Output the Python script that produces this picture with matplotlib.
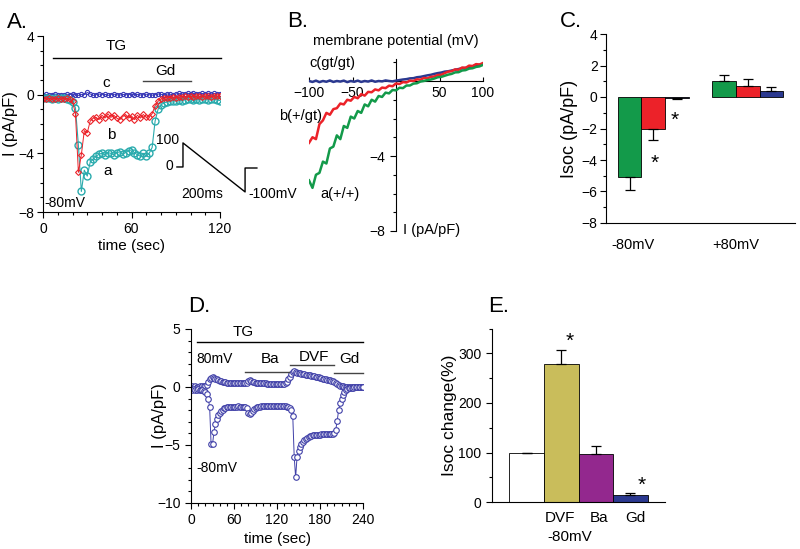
import numpy as np
import matplotlib
matplotlib.use("Agg")
import matplotlib.pyplot as plt
from matplotlib.ticker import MultipleLocator, NullLocator

plt.rcParams['font.family'] = ['Liberation Sans', 'DejaVu Sans']
plt.rcParams['font.size'] = 10

# ---- panel A: time course, TG then Gd (I at -80 mV)
t_a = np.arange(0, 121, 2)
cur_a = [-0.2, -0.25, -0.2, -0.3, -0.25, -0.3, -0.2, -0.25, -0.3, -0.35,
         -0.5, -0.9, -3.45, -6.6, -5.15, -5.55, -4.6, -4.4, -4.2, -4.05,
         -4.0, -4.1, -3.95, -4.0, -4.1, -3.95, -3.9, -4.05, -3.95, -3.85,
         -3.75, -3.95, -4.1, -4.2, -4.0, -4.2, -4.0, -3.6, -1.8, -1.0,
         -0.7, -0.55, -0.5, -0.45, -0.4, -0.42, -0.35, -0.4, -0.35, -0.3,
         -0.32, -0.35, -0.3, -0.35, -0.3, -0.28, -0.35, -0.3, -0.3, -0.35,
         -0.4]
cur_b = [-0.3, -0.3, -0.25, -0.3, -0.3, -0.25, -0.3, -0.3, -0.25, -0.3,
         -0.45, -1.3, -5.3, -4.1, -2.45, -2.6, -1.8, -1.6, -1.55, -1.7,
         -1.4, -1.6, -1.3, -1.55, -1.4, -1.6, -1.7, -1.5, -1.35, -1.6,
         -1.45, -1.7, -1.4, -1.6, -1.35, -1.55, -1.5, -1.3, -0.75, -0.45,
         -0.3, -0.25, -0.2, -0.2, -0.15, -0.2, -0.15, -0.15, -0.1, -0.15,
         -0.1, -0.15, -0.1, -0.1, -0.15, -0.1, -0.1, -0.15, -0.1, -0.1,
         -0.1]
cur_c = [0.0, 0.02, -0.05, 0.0, 0.05, -0.02, 0.0, -0.05, 0.03, 0.0,
         0.05, 0.0, -0.05, 0.02, 0.0, 0.15, 0.05, -0.05, 0.0, 0.05,
         0.0, 0.02, -0.05, 0.0, 0.03, 0.0, -0.03, 0.02, 0.0, 0.0,
         0.05, 0.0, 0.02, -0.02, 0.0, 0.03, 0.0, -0.03, 0.0, 0.05,
         0.02, 0.0, 0.05, 0.03, 0.0, 0.05, 0.08, 0.05, 0.03, 0.1,
         0.05, 0.08, 0.05, 0.03, 0.08, 0.05, 0.1, 0.05, 0.08, 0.05,
         0.05]

# ---- panel B: I-V ramps
mv = np.arange(-100, 101, 4)
iv_a = [-5.3, -5.7, -5.0, -4.9, -4.3, -4.4, -3.6, -3.5, -2.9, -3.1,
        -2.4, -2.5, -1.9, -2.0, -1.6, -1.7, -1.25, -1.35, -1.0, -1.1,
        -0.8, -0.85, -0.62, -0.66, -0.48, -0.5, -0.36, -0.38, -0.24, -0.24,
        -0.14, -0.12, -0.03, 0.0, 0.05, 0.08, 0.13, 0.2, 0.22, 0.28,
        0.34, 0.38, 0.46, 0.47, 0.56, 0.58, 0.66, 0.68, 0.75, 0.78, 0.86]
iv_b = [-3.3, -3.0, -3.1, -2.3, -2.1, -1.7, -1.8, -1.5, -1.45, -1.2,
        -1.25, -1.0, -1.05, -0.85, -0.92, -0.7, -0.78, -0.58, -0.6, -0.45,
        -0.5, -0.35, -0.38, -0.25, -0.28, -0.13, -0.16, -0.06, -0.08, 0.02,
        0.0, 0.09, 0.07, 0.16, 0.14, 0.22, 0.24, 0.32, 0.33, 0.42,
        0.5, 0.52, 0.62, 0.6, 0.72, 0.7, 0.82, 0.8, 0.9, 0.88, 0.96]
iv_c = [0.0, -0.05, 0.02, -0.06, 0.0, -0.04, 0.03, -0.05, 0.0, -0.03,
        0.02, -0.06, 0.0, -0.04, 0.02, -0.05, 0.0, -0.03, 0.03, -0.04,
        0.0, -0.02, 0.03, 0.0, -0.02, 0.02, 0.05, 0.08, 0.1, 0.14,
        0.15, 0.2, 0.22, 0.26, 0.3, 0.33, 0.38, 0.42, 0.45, 0.5,
        0.52, 0.56, 0.6, 0.64, 0.68, 0.7, 0.75, 0.78, 0.82, 0.86, 0.9]

# ---- panel C: Isoc at -80 / +80 mV (a, b, c genotypes)
isoc_neg = [-5.1, -2.0, -0.05]
isoc_neg_err = [0.8, 0.7, 0.05]
isoc_pos = [1.0, 0.7, 0.4]
isoc_pos_err = [0.42, 0.42, 0.22]

# ---- panel D: time course with Ba, DVF, Gd
t_d = np.arange(0, 241, 2)
d_minus80 = [-0.2, -0.25, -0.2, -0.3, -0.25, -0.2, -0.3, -0.25, -0.3, -0.35,
             -0.45, -0.6, -1.0, -1.7, -4.9, -4.95, -3.9, -3.2, -2.8, -2.45,
             -2.2, -2.05, -1.95, -1.85, -1.8, -1.75, -1.75, -1.72, -1.7, -1.7,
             -1.7, -1.7, -1.7, -1.68, -1.7, -1.7, -1.7, -1.7, -1.72, -1.8,
             -2.2, -2.35, -2.25, -2.05, -1.9, -1.82, -1.75, -1.72, -1.7, -1.68,
             -1.65, -1.65, -1.63, -1.65, -1.63, -1.62, -1.63, -1.62, -1.62, -1.63,
             -1.62, -1.62, -1.63, -1.65, -1.65, -1.65, -1.68, -1.7, -1.72, -1.8,
             -2.0, -2.5, -6.0, -7.8, -6.0, -5.5, -5.15, -4.9, -4.75, -4.6,
             -4.5, -4.4, -4.3, -4.25, -4.2, -4.15, -4.12, -4.1, -4.1, -4.1,
             -4.1, -4.08, -4.08, -4.08, -4.06, -4.06, -4.05, -4.05, -4.05, -4.02,
             -3.95, -3.7, -2.9, -2.0, -1.4, -1.0, -0.7, -0.45, -0.3, -0.2,
             -0.12, -0.08, -0.05, -0.05, -0.03, -0.03, -0.02, -0.02, -0.02, -0.02,
             -0.02]
d_plus80 = [0.0, 0.05, 0.0, 0.05, 0.02, 0.0, 0.05, 0.02, 0.05, 0.05,
            0.1, 0.2, 0.4, 0.65, 0.8, 0.85, 0.8, 0.72, 0.65, 0.58,
            0.52, 0.48, 0.45, 0.42, 0.4, 0.38, 0.37, 0.36, 0.35, 0.35,
            0.34, 0.34, 0.33, 0.33, 0.33, 0.32, 0.32, 0.32, 0.33, 0.35,
            0.5, 0.62, 0.55, 0.45, 0.4, 0.37, 0.35, 0.34, 0.33, 0.32,
            0.32, 0.31, 0.31, 0.3, 0.3, 0.3, 0.29, 0.29, 0.28, 0.28,
            0.28, 0.27, 0.27, 0.27, 0.28, 0.3, 0.35, 0.45, 0.65, 0.9,
            1.15, 1.3, 1.35, 1.3, 1.25, 1.2, 1.17, 1.14, 1.12, 1.1,
            1.07, 1.05, 1.02, 1.0, 0.97, 0.94, 0.91, 0.88, 0.85, 0.82,
            0.79, 0.76, 0.73, 0.7, 0.67, 0.64, 0.61, 0.57, 0.53, 0.48,
            0.42, 0.35, 0.26, 0.18, 0.12, 0.08, 0.05, 0.03, 0.02, 0.02,
            0.02, 0.03, 0.02, 0.03, 0.02, 0.03, 0.02, 0.03, 0.02, 0.03,
            0.02]

# ---- panel E: Isoc change (%)
e_labels = ['', 'DVF', 'Ba', 'Gd']
e_vals = [100, 278, 98, 15]
e_err = [0, 29, 15, 4]

green = '#139a4a'
red = '#ec2229'
navy = '#2b3990'
cyan = '#2aabad'
blue_a = '#3a3ab8'
blue_d = '#4040a8'
olive = '#c9bd5b'
purple = '#93288e'

W, H = 800, 549


def rect(l, t, r, b):
    return [l / W, 1 - b / H, (r - l) / W, (b - t) / H]


def clean(ax):
    ax.spines['top'].set_visible(False)
    ax.spines['right'].set_visible(False)
    ax.tick_params(which='major', direction='out', length=4, width=0.8)
    ax.tick_params(which='minor', direction='out', length=2, width=0.8)


fig = plt.figure(figsize=(8, 5.49), dpi=100)

# ================= A
axA = fig.add_axes(rect(43, 36, 220, 212))
axA.plot(t_a, cur_c, '-o', color=blue_a, ms=3, mfc='none', mew=0.8, lw=0.7)
axA.plot(t_a, cur_a, '-o', color=cyan, ms=5, mfc='none', mew=1.0, lw=0.8)
axA.plot(t_a, cur_b, '-D', color=red, ms=3, mfc='none', mew=0.8, lw=0.7)
axA.set_xlim(0, 120)
axA.set_ylim(-8, 4)
axA.xaxis.set_major_locator(MultipleLocator(60))
axA.xaxis.set_minor_locator(MultipleLocator(10))
axA.yaxis.set_major_locator(MultipleLocator(4))
axA.yaxis.set_minor_locator(MultipleLocator(1))
clean(axA)
axA.tick_params(axis='y', which='major', pad=2)
axA.set_xlabel('time (sec)', fontsize=11, labelpad=2)
axA.set_ylabel('I (pA/pF)', fontsize=12)
axA.yaxis.set_label_coords(-0.14, 0.5)
axA.plot([7, 121], [2.5, 2.5], color='black', lw=1, clip_on=False)
axA.text(49.5, 3.3, 'TG', ha='center', va='center', fontsize=11)
axA.plot([68, 100], [0.93, 0.93], color='#444444', lw=1)
axA.text(83, 1.6, 'Gd', ha='center', va='center', fontsize=11)
axA.text(43, 0.8, 'c', ha='center', va='center', fontsize=11)
axA.text(46, -2.75, 'b', ha='center', va='center', fontsize=11)
axA.text(44, -5.2, 'a', ha='center', va='center', fontsize=11)
axA.text(15, -7.4, '-80mV', ha='center', va='center', fontsize=10)
# voltage ramp protocol
axA.plot([90.8, 94.9, 94.9, 137, 137, 145], [-4.93, -4.93, -3.29, -6.63, -5.0, -5.0],
         color='black', lw=1, clip_on=False)
axA.text(92.5, -3.1, '100', ha='right', va='center', fontsize=10)
axA.text(88, -4.86, '0', ha='right', va='center', fontsize=10)
axA.text(108, -6.75, '200ms', ha='center', va='center', fontsize=10)
axA.text(139, -6.75, '-100mV', ha='left', va='center', fontsize=10, clip_on=False)

# ================= B
axB = fig.add_axes(rect(309, 58.5, 483, 231))
axB.plot(mv, iv_c, color=navy, lw=1.8, zorder=3)
axB.plot(mv, iv_b, color=red, lw=1.8, zorder=3)
axB.plot(mv, iv_a, color=green, lw=1.8, zorder=3)
axB.set_xlim(-100, 100)
axB.set_ylim(-8, 1.2)
axB.spines['left'].set_position(('data', 0))
axB.spines['bottom'].set_position(('data', 0))
clean(axB)
axB.set_xticks([-100, -50, 50, 100])
axB.set_yticks([-8, -4])
axB.yaxis.set_minor_locator(MultipleLocator(1))
axB.tick_params(axis='x', which='major', direction='in', length=3)
axB.text(0, 2.15, 'membrane potential (mV)', ha='center', va='center', fontsize=10.5)
axB.text(-73, 0.95, 'c(gt/gt)', ha='center', va='center', fontsize=10.5)
axB.text(-110, -1.87, 'b(+/gt)', ha='center', va='center', fontsize=10.5)
axB.text(-64, -6.05, 'a(+/+)', ha='center', va='center', fontsize=10.5)
axB.text(8, -7.95, 'I (pA/pF)', ha='left', va='center', fontsize=10.5)

# ================= C
axC = fig.add_axes(rect(606, 34, 795, 223))
cols = [green, red, navy]
axC.bar([1, 2, 3], isoc_neg, width=1, color=cols, edgecolor='black', lw=0.6,
        yerr=[isoc_neg_err, [0, 0, 0]], capsize=3.5,
        error_kw=dict(elinewidth=0.9, capthick=0.9))
axC.bar([5, 6, 7], isoc_pos, width=1, color=cols, edgecolor='black', lw=0.6,
        yerr=[[0, 0, 0], isoc_pos_err], capsize=3.5,
        error_kw=dict(elinewidth=0.9, capthick=0.9))
axC.set_xlim(0, 8)
axC.set_ylim(-8, 4)
axC.yaxis.set_major_locator(MultipleLocator(2))
axC.yaxis.set_minor_locator(MultipleLocator(1))
axC.xaxis.set_major_locator(NullLocator())
clean(axC)
axC.tick_params(axis='y', which='major', pad=2)
axC.set_ylabel('Isoc (pA/pF)', fontsize=13)
axC.yaxis.set_label_coords(-0.15, 0.5)
axC.text(2.92, -1.5, '*', ha='center', va='center', fontsize=15)
axC.text(2.05, -4.2, '*', ha='center', va='center', fontsize=15)
axC.text(1.15, -9.4, '-80mV', ha='center', va='center', fontsize=10.5)
axC.text(5.5, -9.4, '+80mV', ha='center', va='center', fontsize=10.5)

# ================= D
axD = fig.add_axes(rect(191, 329, 363, 503))
axD.plot(t_d, d_plus80, '-o', color=blue_d, ms=4, mfc='white', mew=0.8, lw=0.7)
axD.plot(t_d, d_minus80, '-o', color=blue_d, ms=4, mfc='white', mew=0.8, lw=0.7)
axD.set_xlim(0, 240)
axD.set_ylim(-10, 5)
axD.xaxis.set_major_locator(MultipleLocator(60))
axD.xaxis.set_minor_locator(MultipleLocator(10))
axD.yaxis.set_major_locator(MultipleLocator(5))
axD.yaxis.set_minor_locator(MultipleLocator(1))
clean(axD)
axD.set_xlabel('time (sec)', fontsize=11, labelpad=3)
axD.set_ylabel('I (pA/pF)', fontsize=12)
axD.yaxis.set_label_coords(-0.14, 0.5)
axD.plot([8, 240], [3.86, 3.86], color='black', lw=1, clip_on=False)
axD.text(73, 4.7, 'TG', ha='center', va='center', fontsize=11)
axD.text(7, 2.4, '80mV', ha='left', va='center', fontsize=10)
axD.plot([76, 137], [1.33, 1.33], color='#444444', lw=1)
axD.text(110, 2.4, 'Ba', ha='center', va='center', fontsize=11)
axD.plot([138, 199], [1.86, 1.86], color='#444444', lw=1)
axD.text(171, 2.6, 'DVF', ha='center', va='center', fontsize=11)
axD.plot([199, 240], [1.25, 1.25], color='#444444', lw=1, clip_on=False)
axD.text(221, 2.4, 'Gd', ha='center', va='center', fontsize=11)
axD.text(8, -6.95, '-80mV', ha='left', va='center', fontsize=10)

# ================= E
axE = fig.add_axes(rect(492, 328.5, 665, 502.3))
axE.bar([1, 2, 3, 4], e_vals, width=1, color=['white', olive, purple, navy],
        edgecolor='black', lw=0.6, yerr=[[0, 0, 0, 0], e_err], capsize=3.5,
        error_kw=dict(elinewidth=0.9, capthick=0.9))
axE.set_xlim(0, 5)
axE.set_ylim(0, 350)
axE.yaxis.set_major_locator(MultipleLocator(100))
axE.yaxis.set_minor_locator(MultipleLocator(50))
axE.xaxis.set_major_locator(NullLocator())
clean(axE)
axE.set_ylabel('Isoc change(%)', fontsize=12.5)
axE.yaxis.set_label_coords(-0.2, 0.5)
axE.text(2.24, 325, '*', ha='center', va='center', fontsize=15)
axE.text(4.34, 34, '*', ha='center', va='center', fontsize=15)
for xi, lab in zip([1.97, 3.08, 4.14], e_labels[1:]):
    axE.text(xi, -32, lab, ha='center', va='center', fontsize=11)
axE.text(2.26, -69, '-80mV', ha='center', va='center', fontsize=11)

# panel letters
for lab, x, y in [('A.', 7, 28), ('B.', 287, 27), ('C.', 560, 27),
                  ('D.', 188, 312), ('E.', 488, 312)]:
    fig.text(x / W, 1 - y / H, lab, fontsize=16, ha='left', va='baseline')

fig.savefig('out.png', dpi=100)
